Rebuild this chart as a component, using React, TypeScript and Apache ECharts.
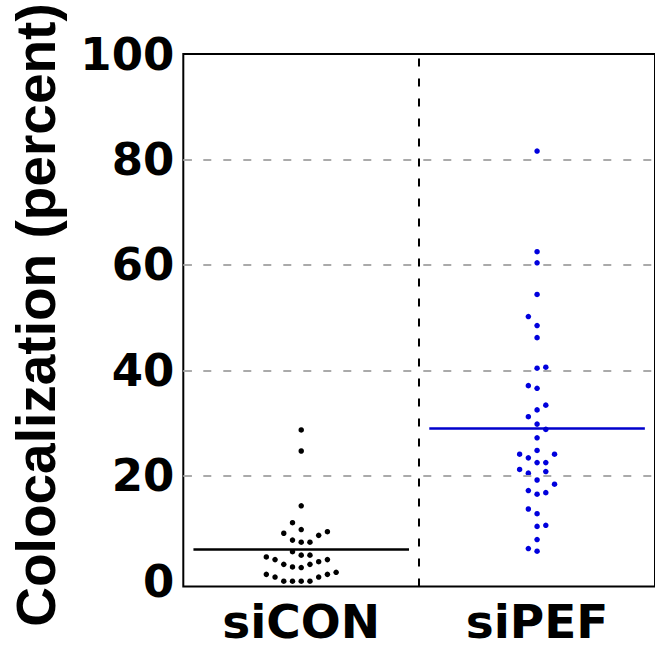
import React, { useEffect, useRef } from "react";
import * as echarts from "echarts";

const categories = ["siCON", "siPEF"];
const yTicks = [0, 20, 40, 60, 80, 100];
const gridValues = [20, 40, 60, 80];

// siCON: value (percent) and beeswarm column step
const siconValues = [28.7, 24.7, 14.3, 11.1, 9.8, 9.1, 9.4, 8.7, 7.8, 7.4, 7.4, 5.6, 4.95, 4.95, 4.6, 4.1, 3.2, 2.7, 2.6, 3.2, 3.7, 4.1, 1.3, 0.8, 0, 0, 0, 0, 0.8, 1.3, 1.7];
const siconSteps = [0, 0, 0, -1, 0, -2, 3, 2, -1, 0, 1, -1, 0, 1, -4, -3, -2, -1, 0, 1, 2, 3, -4, -3, -2, -1, 0, 1, 2, 3, 4];

// siPEF
const sipefValues = [81.6, 62.5, 60.4, 54.4, 50.2, 48.5, 46.2, 40.4, 40.6, 37.1, 36.6, 33.4, 32.5, 31.2, 29.8, 28.8, 27.2, 24.8, 24.1, 24.1, 23.4, 22.5, 22.5, 21.2, 20.5, 20.8, 19.2, 18.4, 17.2, 16.5, 16.8, 13.7, 12.8, 10.4, 10.6, 7.9, 6.2, 5.7];
const sipefSteps = [0, 0, 0, 0, -1, 0, 0, 0, 1, -1, 0, 1, 0, -1, 0, 1, 0, 0, -2, 2, -1, 0, 1, -2, -1, 1, 0, 2, -1, 0, 1, -1, 0, 0, 1, 0, -1, 0];

const means = [6.1, 29.0];

const STEP = 0.037;
const HALF = 0.457;

export default function App() {
  const ref = useRef<HTMLDivElement>(null);
  useEffect(() => {
    if (!ref.current) return;
    const chart = echarts.init(ref.current, null, { renderer: "svg" });
    const siconData = siconValues.map((v, i) => [1 + siconSteps[i] * STEP, v]);
    const sipefData = sipefValues.map((v, i) => [2 + sipefSteps[i] * STEP, v]);
    chart.setOption({
      animation: false,
      backgroundColor: "#fff",
      grid: {
        left: 183.3,
        top: 54,
        bottom: 62.5,
        right: -6,
        show: true,
        borderColor: "#000",
        borderWidth: 2,
        backgroundColor: "transparent",
      },
      xAxis: {
        type: "value",
        min: 0.5,
        max: 2.5,
        splitLine: { show: false },
        axisLine: { show: false, onZero: false },
        axisTick: { show: false },
        axisLabel: {
          fontFamily: "DejaVu Sans",
          fontWeight: "bold",
          fontSize: 47,
          color: "#000",
          margin: 11,
          customValues: [1, 2],
          formatter: (v: number) => categories[Math.round(v) - 1] ?? "",
        },
      },
      yAxis: {
        type: "value",
        min: -1,
        max: 100,
        splitLine: { show: false },
        axisLine: { show: false, onZero: false },
        axisTick: {
          show: true,
          inside: true,
          length: 8,
          customValues: [20, 40, 60, 80, 100],
          lineStyle: { color: "#000", width: 2 },
        },
        axisLabel: {
          fontFamily: "DejaVu Sans",
          fontWeight: "bold",
          fontSize: 45,
          color: "#000",
          margin: 9,
          customValues: yTicks,
        },
      },
      graphic: [
        {
          type: "text",
          x: 36,
          y: 315,
          rotation: Math.PI / 2,
          style: {
            text: "Colocalization (percent)",
            fontFamily: "Liberation Sans",
            fontWeight: "bold",
            fontSize: 55,
            fill: "#000",
            textAlign: "center",
            textVerticalAlign: "middle",
          },
        },
      ],
      series: [
        {
          type: "scatter",
          name: categories[0],
          data: siconData,
          symbolSize: 5.5,
          itemStyle: { color: "#000", opacity: 1 },
          silent: true,
          markLine: {
            silent: true,
            symbol: "none",
            label: { show: false },
            data: [
              ...gridValues.map((g) => ({
                yAxis: g,
                lineStyle: { color: "#aaaaaa", width: 2, type: [8, 12], opacity: 1 },
              })),
              {
                xAxis: 1.5,
                lineStyle: { color: "#000", width: 2, type: [8, 12], opacity: 1 },
              },
              [
                { coord: [1 - HALF, means[0]], lineStyle: { color: "#000", width: 2.5, type: "solid", opacity: 1 } },
                { coord: [1 + HALF, means[0]] },
              ],
            ],
          },
        },
        {
          type: "scatter",
          name: categories[1],
          data: sipefData,
          symbolSize: 5.5,
          itemStyle: { color: "#0000dd", opacity: 1 },
          silent: true,
          markLine: {
            silent: true,
            symbol: "none",
            label: { show: false },
            data: [
              [
                { coord: [2 - HALF, means[1]], lineStyle: { color: "#0000cc", width: 2.5, type: "solid", opacity: 1 } },
                { coord: [2 + HALF, means[1]] },
              ],
            ],
          },
        },
      ],
    });
    return () => chart.dispose();
  }, []);
  return (
    <div
      ref={ref}
      style={{ position: "absolute", left: 0, top: 0, width: 655, height: 649 }}
    />
  );
}
